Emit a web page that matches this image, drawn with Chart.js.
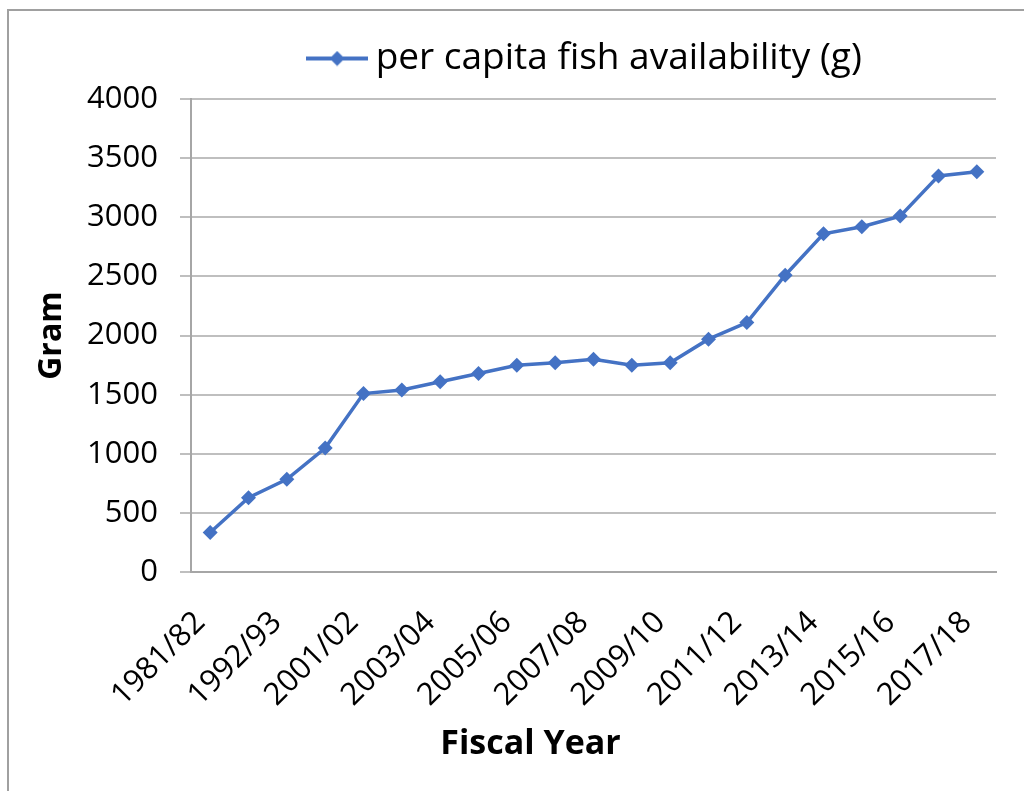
<!DOCTYPE html>
<html>
<head>
<meta charset="utf-8">
<script src="https://cdn.jsdelivr.net/npm/chart.js@4"></script>
<style>
html,body{margin:0;padding:0;background:#fff;}
#wrap{position:relative;width:1024px;height:791px;}
</style>
</head>
<body>
<div id="wrap"><canvas id="c" width="1024" height="791"></canvas></div>
<script>
const categories = ["1981/82","1986/87","1992/93","1996/97","2001/02","2002/03","2003/04","2004/05","2005/06","2006/07","2007/08","2008/09","2009/10","2010/11","2011/12","2012/13","2013/14","2014/15","2015/16","2016/17","2017/18"];
const fishGrams = [335,630,785,1050,1510,1540,1610,1680,1750,1770,1800,1750,1770,1970,2110,2510,2860,2920,3010,3350,3385];
const seriesName = "per capita fish availability (g)";
const yTicks = [0,500,1000,1500,2000,2500,3000,3500,4000];
const xTitle = "Fiscal Year";
const yTitle = "Gram";

const BLUE = "#4472C4";
const FONT = "'Open Sans', sans-serif";

function legendMarker(){
  const c = document.createElement('canvas');
  c.width = 62; c.height = 16;
  const g = c.getContext('2d');
  g.strokeStyle = BLUE; g.lineWidth = 4;
  g.beginPath(); g.moveTo(0,8); g.lineTo(62,8); g.stroke();
  g.fillStyle = BLUE;
  g.beginPath(); g.moveTo(31,0.5); g.lineTo(38.5,8); g.lineTo(31,15.5); g.lineTo(23.5,8); g.closePath(); g.fill();
  return c;
}
const marker = legendMarker();

const framePlugin = {
  id:'frame',
  beforeDraw(chart){
    const ctx = chart.ctx;
    ctx.save();
    ctx.fillStyle = '#fff';
    ctx.fillRect(0,0,chart.width,chart.height);
    ctx.strokeStyle = '#a0a0a0';
    ctx.lineWidth = 2;
    ctx.beginPath();
    ctx.moveTo(8, 791); ctx.lineTo(8,10); ctx.lineTo(1024,10);
    ctx.stroke();
    ctx.restore();
  }
};
const shiftPlugin = {
  id:'shiftBoxes',
  afterLayout(chart){
    const l = chart.legend;
    if(l){ l.left += 77; l.right += 77; l.top -= 12; l.bottom -= 12; }
    const t = chart.titleBlock;
    if(t){ t.left += 18; t.right += 18; }
  }
};

new Chart(document.getElementById('c'), {
  type:'line',
  data:{
    labels: categories,
    datasets:[{
      label: seriesName,
      data: fishGrams,
      borderColor: BLUE,
      backgroundColor: BLUE,
      borderWidth: 3.5,
      pointStyle: 'rectRot',
      pointRadius: 7.5,
      pointBorderWidth: 0,
      pointBackgroundColor: BLUE,
      tension: 0
    }]
  },
  options:{
    responsive:false,
    animation:false,
    devicePixelRatio:1,
    layout:{padding:{left:29,right:28,top:12,bottom:0}},
    plugins:{
      legend:{
        position:'top',
        labels:{
          font:{family:FONT,size:37},
          color:'#000',
          usePointStyle:true,
          pointStyleWidth:40,
          padding:40,
          generateLabels(chart){
            return [{text:seriesName, pointStyle:marker, fillStyle:BLUE, strokeStyle:BLUE, lineWidth:0, hidden:false, datasetIndex:0, fontColor:'#000'}];
          }
        }
      },
      title:{
        display:true, position:'bottom', text:xTitle,
        font:{family:FONT,size:34,weight:'bold',lineHeight:1.2}, color:'#000',
        padding:{top:2,bottom:26}
      },
      tooltip:{enabled:false}
    },
    scales:{
      x:{
        offset:true,
        grid:{display:false, drawTicks:false},
        border:{display:true,color:'#a6a6a6',width:2},
        ticks:{
          autoSkip:false, minRotation:45, maxRotation:45,
          font:{family:FONT,size:31}, color:'#000', padding:32, labelOffset:-10,
          callback(v,i){ return i%2===0 ? this.getLabelForValue(v) : ''; }
        },
        afterFit(s){ s.height = 150; s.paddingLeft = 0; s.paddingRight = 0; }
      },
      y:{
        min:0,max:4000,
        afterBuildTicks(s){ s.ticks = yTicks.map(v=>({value:v})); },
        grid:{color:'#bfbfbf',lineWidth:2,tickLength:11,drawTicks:true},
        border:{display:true,color:'#a6a6a6',width:2},
        ticks:{font:{family:FONT,size:31},color:'#000',padding:22,callback(v){return String(v);}},
        title:{display:true,text:yTitle,font:{family:FONT,size:32,weight:'bold'},color:'#000',padding:{top:4,bottom:4}},
        afterFit(s){ s.width = 191 - 29; }
      }
    }
  },
  plugins:[framePlugin, shiftPlugin]
});
</script>
</body>
</html>
